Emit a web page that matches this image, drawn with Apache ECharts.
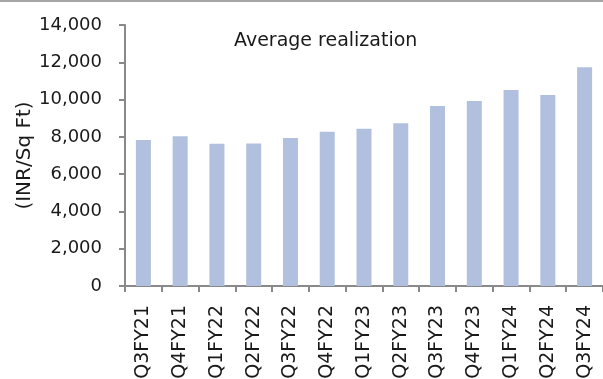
<!DOCTYPE html>
<html>
<head>
<meta charset="utf-8">
<script src="https://cdn.jsdelivr.net/npm/echarts@6/dist/echarts.min.js"></script>
<style>
  html, body { margin: 0; padding: 0; background: #fff; }
  #chart { width: 603px; height: 379px; }
</style>
</head>
<body>
<div id="chart"></div>
<script>
// Quarterly average realization, INR per sq ft
const quarters = ['Q3FY21', 'Q4FY21', 'Q1FY22', 'Q2FY22', 'Q3FY22', 'Q4FY22', 'Q1FY23',
                  'Q2FY23', 'Q3FY23', 'Q4FY23', 'Q1FY24', 'Q2FY24', 'Q3FY24'];
const realization = [7830, 8030, 7630, 7650, 7940, 8280, 8440, 8730, 9660, 9920, 10510, 10250, 11730];

const FONT = 'DejaVu Sans';
const chart = echarts.init(document.getElementById('chart'), null, { renderer: 'canvas' });

chart.setOption({
  animation: false,
  backgroundColor: '#ffffff',
  title: {
    text: 'Average realization',
    left: 229,
    top: 27,
    textStyle: { fontFamily: FONT, fontSize: 19, fontWeight: 'normal', color: '#1a1a1a' }
  },
  graphic: [{
    type: 'rect',
    shape: { x: 0, y: 0, width: 603, height: 2 },
    style: { fill: '#a6a6a6' }
  }],
  grid: { left: 125, right: 0, top: 25, bottom: 93, containLabel: false, outerBoundsMode: 'none' },
  xAxis: {
    type: 'category',
    data: quarters,
    axisLine: { lineStyle: { color: '#898989', width: 2 } },
    axisTick: { show: true, length: 6, lineStyle: { color: '#898989', width: 2 } },
    axisLabel: {
      rotate: 90,
      margin: 19,
      fontFamily: FONT,
      fontSize: 19,
      color: '#1a1a1a'
    }
  },
  yAxis: {
    type: 'value',
    min: 0,
    max: 14000,
    interval: 2000,
    name: '(INR/Sq Ft)',
    nameLocation: 'middle',
    nameGap: 90,
    nameRotate: 90,
    nameMoveOverlap: false,
    nameTextStyle: { fontFamily: FONT, fontSize: 20, color: '#1a1a1a' },
    axisLine: { show: true, lineStyle: { color: '#898989', width: 2 } },
    axisTick: { show: true, length: 6, lineStyle: { color: '#898989', width: 2 } },
    splitLine: { show: false },
    axisLabel: {
      margin: 23,
      fontFamily: FONT,
      fontSize: 18,
      color: '#1a1a1a',
      formatter: v => v.toLocaleString('en-US')
    }
  },
  series: [{
    type: 'bar',
    data: realization,
    barWidth: 15,
    itemStyle: { color: '#b0c0de' }
  }]
});
</script>
</body>
</html>
